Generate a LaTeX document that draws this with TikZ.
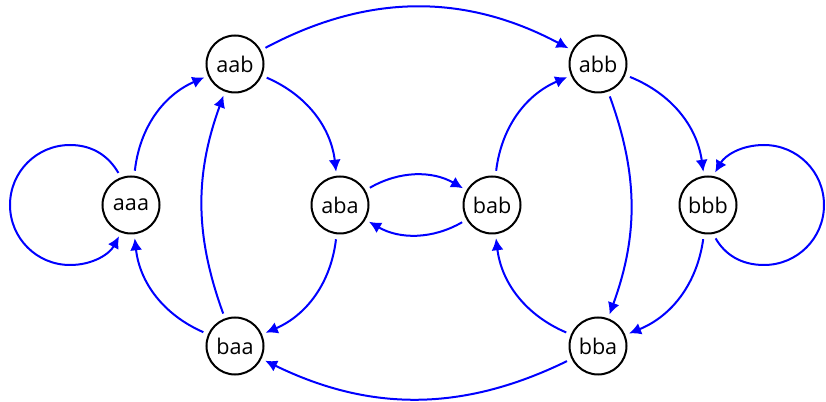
\documentclass[tikz,border=0pt]{standalone}
\usepackage{fontspec}
\setmainfont{Open Sans}
\usetikzlibrary{arrows.meta}
\begin{document}
\begin{tikzpicture}[x=0.5pt,y=0.5pt,
  state/.style={circle,draw=black,line width=1pt,minimum size=28.5pt,inner sep=0pt,
    font=\fontsize{10.8}{13}\selectfont},
  link/.style={draw=blue,line width=1pt,-{Latex[length=6pt,width=6pt]},
    shorten <=2.5pt,shorten >=2pt}]
\useasboundingbox (0,0) rectangle (826,402);

% states of the de Bruijn graph B(2,3)
\node[state] (aaa) at (131,197) {aaa};
\node[state] (aab) at (235,338) {aab};
\node[state] (aba) at (340,197) {aba};
\node[state] (bab) at (492,197) {bab};
\node[state] (abb) at (598,338) {abb};
\node[state] (bbb) at (708,197) {bbb};
\node[state] (baa) at (235,56)  {baa};
\node[state] (bba) at (598,56)  {bba};

% waypoints of the two self-loops
\coordinate (aaaT) at (70,257);
\coordinate (aaaL) at (10,197);
\coordinate (aaaB) at (70,137);
\coordinate (bbbB) at (764,137);
\coordinate (bbbR) at (824,197);
\coordinate (bbbT) at (764,257);

% self-loops
\draw[link] (aaa.110) to[out=120,in=0] (aaaT) to[out=180,in=90] (aaaL)
  to[out=270,in=180] (aaaB) to[out=0,in=242] (aaa.250);
\draw[link] (bbb.280) to[out=300,in=180] (bbbB) to[out=0,in=270] (bbbR)
  to[out=90,in=0] (bbbT) to[out=180,in=60] (bbb.80);

% transitions
\draw[link] (aaa) to[bend left] (aab);
\draw[link] (aab) to[bend left] (aba);
\draw[link] (aab) to[bend left=28] (abb);
\draw[link] (aba) to[bend left] (bab);
\draw[link] (bab) to[bend left] (aba);
\draw[link] (aba) to[bend left] (baa);
\draw[link] (baa) to[bend left] (aaa);
\draw[link] (baa) to[bend left=20] (aab);
\draw[link] (bab) to[bend left] (abb);
\draw[link] (abb) to[bend left] (bbb);
\draw[link] (abb) to[bend left=20] (bba);
\draw[link] (bbb) to[bend left] (bba);
\draw[link] (bba) to[bend left] (bab);
\draw[link] (bba) to[bend left=26] (baa);
\end{tikzpicture}
\end{document}
